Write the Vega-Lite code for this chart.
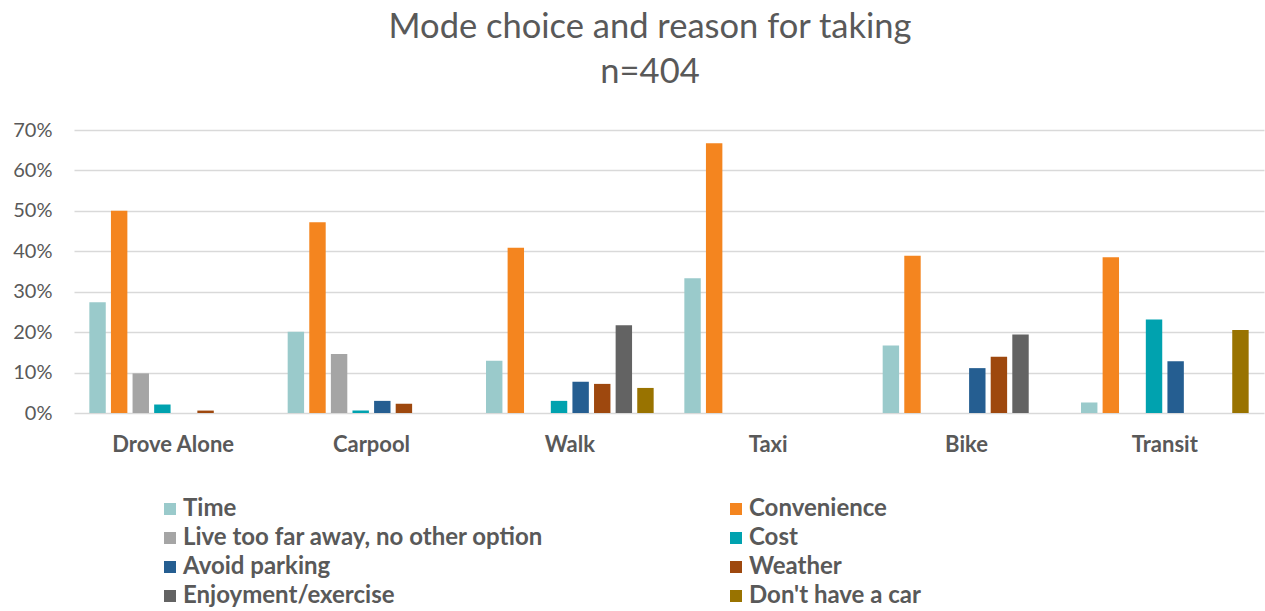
{
  "$schema": "https://vega.github.io/schema/vega-lite/v6.json",
  "autosize": "none",
  "width": 1190,
  "height": 283,
  "padding": {"left": 74, "top": 130, "right": 1, "bottom": 198},
  "background": "white",
  "title": {
    "text": ["Mode choice and reason for taking", "n=404"],
    "fontSize": 34.5,
    "font": "Lato",
    "fontWeight": "normal",
    "color": "#595959",
    "lineHeight": 45,
    "anchor": "middle",
    "dx": -19,
    "offset": 30
  },
  "data": {
    "values": [
      {"mode": "Drove Alone", "reason": "Time", "share": 0.274},
      {"mode": "Drove Alone", "reason": "Convenience", "share": 0.500},
      {"mode": "Drove Alone", "reason": "Live too far away, no other option", "share": 0.098},
      {"mode": "Drove Alone", "reason": "Cost", "share": 0.021},
      {"mode": "Drove Alone", "reason": "Weather", "share": 0.006},
      {"mode": "Carpool", "reason": "Time", "share": 0.201},
      {"mode": "Carpool", "reason": "Convenience", "share": 0.472},
      {"mode": "Carpool", "reason": "Live too far away, no other option", "share": 0.146},
      {"mode": "Carpool", "reason": "Cost", "share": 0.006},
      {"mode": "Carpool", "reason": "Avoid parking", "share": 0.030},
      {"mode": "Carpool", "reason": "Weather", "share": 0.023},
      {"mode": "Walk", "reason": "Time", "share": 0.129},
      {"mode": "Walk", "reason": "Convenience", "share": 0.409},
      {"mode": "Walk", "reason": "Cost", "share": 0.030},
      {"mode": "Walk", "reason": "Avoid parking", "share": 0.077},
      {"mode": "Walk", "reason": "Weather", "share": 0.072},
      {"mode": "Walk", "reason": "Enjoyment/exercise", "share": 0.217},
      {"mode": "Walk", "reason": "Don't have a car", "share": 0.062},
      {"mode": "Taxi", "reason": "Time", "share": 0.333},
      {"mode": "Taxi", "reason": "Convenience", "share": 0.667},
      {"mode": "Bike", "reason": "Time", "share": 0.167},
      {"mode": "Bike", "reason": "Convenience", "share": 0.389},
      {"mode": "Bike", "reason": "Avoid parking", "share": 0.111},
      {"mode": "Bike", "reason": "Weather", "share": 0.139},
      {"mode": "Bike", "reason": "Enjoyment/exercise", "share": 0.194},
      {"mode": "Transit", "reason": "Time", "share": 0.026},
      {"mode": "Transit", "reason": "Convenience", "share": 0.385},
      {"mode": "Transit", "reason": "Cost", "share": 0.231},
      {"mode": "Transit", "reason": "Avoid parking", "share": 0.128},
      {"mode": "Transit", "reason": "Don't have a car", "share": 0.205}
    ]
  },
  "mark": {"type": "bar"},
  "encoding": {
    "x": {
      "field": "mode",
      "type": "nominal",
      "sort": ["Drove Alone", "Carpool", "Walk", "Taxi", "Bike", "Transit"],
      "scale": {"paddingInner": 0, "paddingOuter": 0},
      "axis": {
        "title": null,
        "labelAngle": 0,
        "labelFont": "Lato",
        "labelFontSize": 22,
        "labelFontWeight": "bold",
        "labelColor": "#595959",
        "labelPadding": 21,
        "ticks": false,
        "domain": false,
        "grid": false
      }
    },
    "xOffset": {
      "field": "reason",
      "type": "nominal",
      "scale": {
        "domain": ["Time", "Convenience", "Live too far away, no other option", "Cost", "Avoid parking", "Weather", "Enjoyment/exercise", "Don't have a car"],
        "paddingInner": 0.24,
        "paddingOuter": 0.71
      }
    },
    "y": {
      "field": "share",
      "type": "quantitative",
      "scale": {"domain": [0, 0.7], "nice": false},
      "axis": {
        "title": null,
        "values": [0, 0.1, 0.2, 0.3, 0.4, 0.5, 0.6, 0.7],
        "format": ".0%",
        "labelFont": "Lato",
        "labelFontSize": 20,
        "labelColor": "#595959",
        "labelPadding": 22,
        "ticks": false,
        "domain": false,
        "gridColor": "#D9D9D9",
        "gridWidth": 1.5
      }
    },
    "color": {
      "field": "reason",
      "type": "nominal",
      "scale": {
        "domain": ["Time", "Convenience", "Live too far away, no other option", "Cost", "Avoid parking", "Weather", "Enjoyment/exercise", "Don't have a car"],
        "range": ["#9ACACB", "#F4851F", "#A5A5A5", "#00A2AF", "#255E91", "#9E480E", "#636363", "#997300"]
      },
      "legend": {
        "title": null,
        "orient": "none",
        "direction": "horizontal",
        "legendX": 84,
        "legendY": 367,
        "columns": 2,
        "columnPadding": 180,
        "rowPadding": 5,
        "padding": 0,
        "symbolType": "square",
        "symbolSize": 144,
        "symbolStrokeWidth": 0,
        "labelFont": "Lato",
        "labelFontSize": 24,
        "labelFontWeight": "bold",
        "labelColor": "#595959",
        "labelOffset": 1,
        "labelLimit": 600
      }
    }
  },
  "config": {"view": {"stroke": null}}
}
